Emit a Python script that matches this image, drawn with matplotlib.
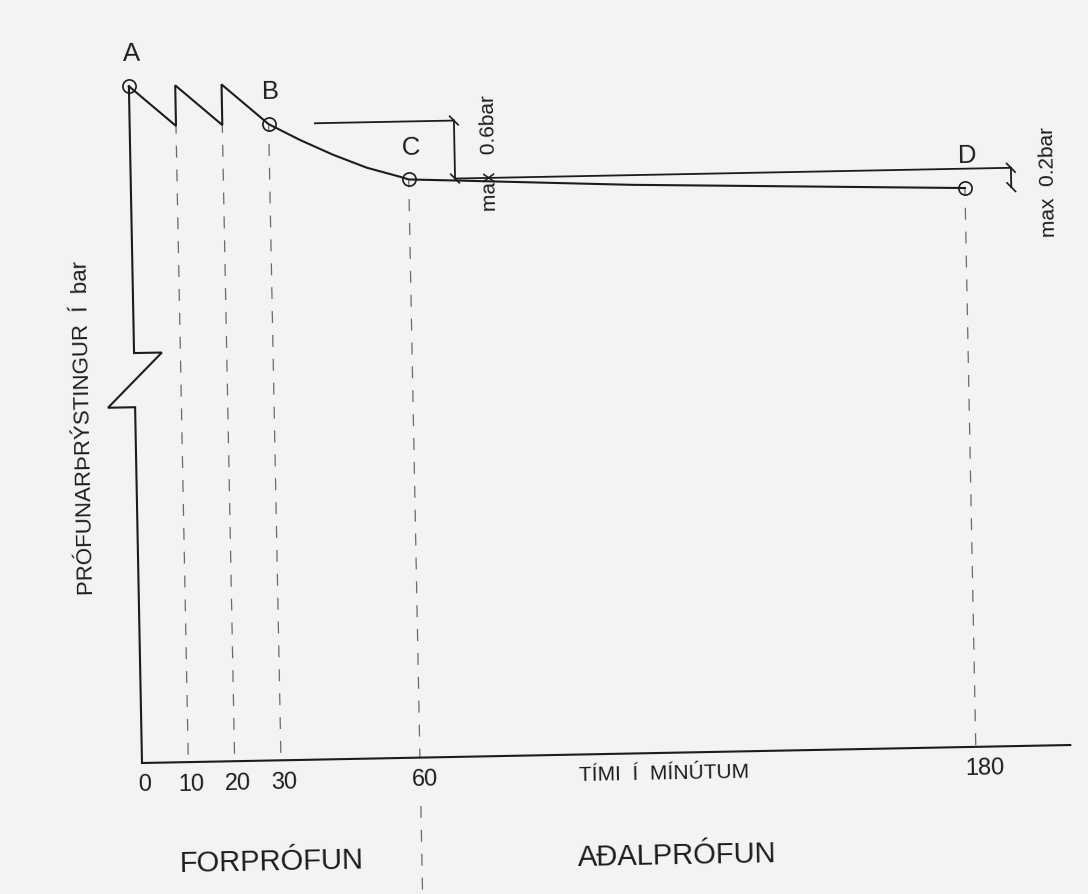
import matplotlib
matplotlib.use('Agg')
import matplotlib.pyplot as plt
from matplotlib.transforms import Affine2D

plt.rcParams['font.family'] = ['Liberation Sans', 'DejaVu Sans']
plt.rcParams['lines.scale_dashes'] = False

# ---------------- data (minutes / bar) ----------------
time_min = [0, 10, 10, 20, 20, 30, 36.7, 43.8, 51.0, 58.1, 60, 70, 108, 180]
pressure_bar = [7.0, 6.58, 7.0, 6.58, 7.0, 6.58, 6.41, 6.25, 6.11, 6.01, 5.98, 5.96, 5.88, 5.78]

point_names = ['A', 'B', 'C', 'D']
point_time = [0, 30, 60, 180]
point_pressure = [7.0, 6.58, 5.98, 5.78]

guide_time = [10, 20, 30, 60, 180]
guide_pressure = [6.58, 6.58, 6.58, 5.98, 5.78]

tick_values = [0, 10, 20, 30, 60, 180]
tick_labels = ['0', '10', '20', '30', '60', '180']

axis_end_time = 200.4
break_upper = 4.24
break_lower = 3.68

dim1_label = 'max   0.6bar'
dim2_label = 'max  0.2bar'
x_label = 'TÍMI  Í  MÍNÚTUM'
y_label = 'PRÓFUNARÞRÝSTINGUR  Í  bar'
phase_labels = ['FORPRÓFUN', 'AÐALPRÓFUN']

# ---------------- styling ----------------
BG = '#f3f3f3'
INK = '#1c1c1c'
DASH = '#6a6a6a'
ANGLE = 1.11  # scan tilt in degrees

fig = plt.figure(figsize=(10.88, 8.94), dpi=100, facecolor=BG)
ax = fig.add_axes([0, 0, 1, 1])
ax.set_facecolor(BG)
ax.set_xlim(-30.65, 204.19)
ax.set_ylim(-1.3547, 7.8904)
ax.axis('off')

pivot = ax.transData.transform((0, 0))
tr = ax.transData + Affine2D().rotate_deg_around(pivot[0], pivot[1], ANGLE)

# dashed guide lines
for t, p in zip(guide_time, guide_pressure):
    ax.plot([t, t], [p, 0], color=DASH, lw=0.9, ls=(3, (8.6, 8.6)), transform=tr)
ax.plot([60, 60], [-0.5, -1.5], color=DASH, lw=0.9, ls=(0, (8.6, 8.6)), transform=tr)

# axes with break
ax.plot([0, 0, 6.0, -5.85, 0, 0, axis_end_time],
        [point_pressure[0], break_upper, break_upper, break_lower, break_lower, 0, 0],
        color=INK, lw=1.5, transform=tr, solid_joinstyle='miter')

# pressure curve
ax.plot(time_min, pressure_bar, color=INK, lw=1.5, transform=tr, solid_joinstyle='miter')

# points
ax.plot(point_time, point_pressure, 'o', mfc='none', mec=INK, ms=9.5, mew=1.2, transform=tr)
for name, t, p in zip(point_names, point_time, point_pressure):
    ax.text(t + 0.6, p + 0.33, name, fontsize=18.5, ha='center', va='center', color=INK,
            transform=tr, rotation=ANGLE, rotation_mode='anchor')

# dimension 1 (B -> C)
x_dim1 = 70
ax.plot([40, x_dim1], [point_pressure[1], point_pressure[1]], color=INK, lw=1.3, transform=tr)
ax.plot([x_dim1, x_dim1], [point_pressure[1], point_pressure[2]], color=INK, lw=1.3, transform=tr)
# dimension 2 (C -> D)
x_dim2 = 190
ax.plot([x_dim1, x_dim2], [point_pressure[2], point_pressure[2]], color=INK, lw=1.3, transform=tr)
ax.plot([x_dim2, x_dim2], [point_pressure[2], point_pressure[3]], color=INK, lw=1.3, transform=tr)


def tick_mark(x, y):
    ax.plot([x - 0.9, x + 0.9], [y + 0.045, y - 0.045], color=INK, lw=1.2, transform=tr)


for xx, yy in [(x_dim1, point_pressure[1]), (x_dim1, point_pressure[2]),
               (x_dim2, point_pressure[2]), (x_dim2, point_pressure[3])]:
    tick_mark(xx, yy)

ax.text(77.6, 6.24, dim1_label, fontsize=15, ha='center', va='center', color=INK,
        transform=tr, rotation=90 + ANGLE, rotation_mode='anchor')
ax.text(198.0, 5.82, dim2_label, fontsize=15, ha='center', va='center', color=INK,
        transform=tr, rotation=90 + ANGLE, rotation_mode='anchor')

# tick labels
for v, lab in zip(tick_values, tick_labels):
    ax.text(v + 0.4 + 0.008 * v, -0.23, lab, fontsize=17, ha='center', va='center', color=INK,
            transform=tr, rotation=ANGLE, rotation_mode='anchor')

ax.text(112.7, -0.215, x_label, fontsize=15, ha='center', va='center', color=INK,
        transform=tr, rotation=ANGLE, rotation_mode='anchor')
ax.text(-11.0, 3.48, y_label, fontsize=16, ha='center', va='center', color=INK,
        transform=tr, rotation=90 + ANGLE, rotation_mode='anchor')

ax.text(27.6, -1.05, phase_labels[0], fontsize=21, ha='center', va='center', color=INK,
        transform=tr, rotation=ANGLE, rotation_mode='anchor')
ax.text(115.2, -1.07, phase_labels[1], fontsize=21, ha='center', va='center', color=INK,
        transform=tr, rotation=ANGLE, rotation_mode='anchor')

fig.savefig('out.png', dpi=100, facecolor=BG)
